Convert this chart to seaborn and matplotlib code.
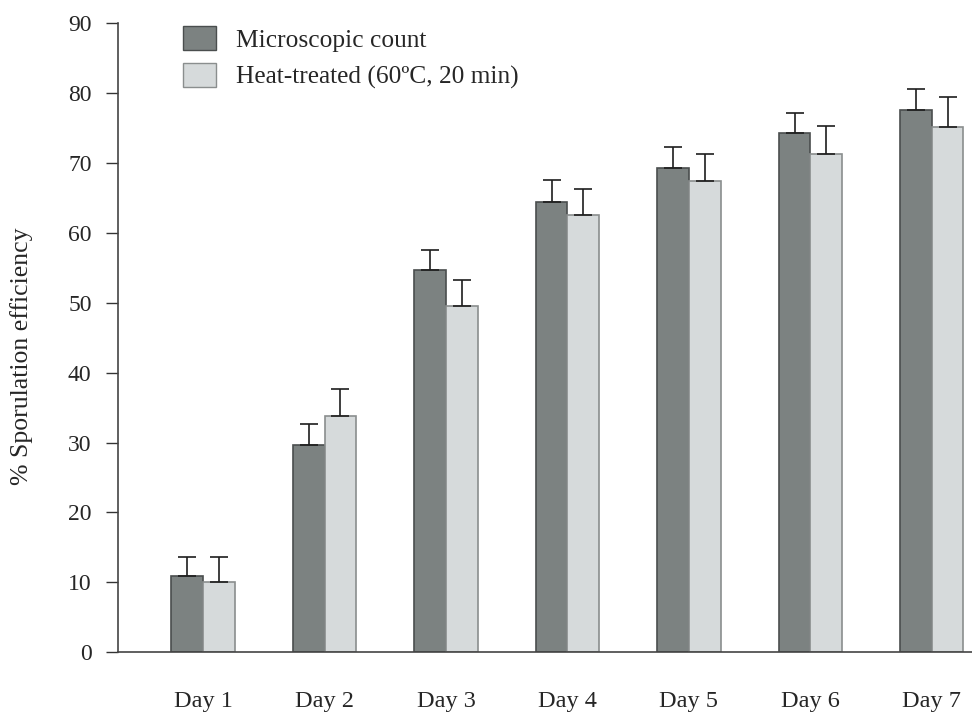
import matplotlib
matplotlib.use("Agg")
import matplotlib.pyplot as plt
import seaborn as sns
import pandas as pd
from matplotlib.patches import Patch

days = ["Day 1", "Day 2", "Day 3", "Day 4", "Day 5", "Day 6", "Day 7"]
series_names = ["Microscopic count", "Heat-treated (60ºC, 20 min)"]
microscopic = [10.9, 29.6, 54.7, 64.4, 69.3, 74.3, 77.5]
microscopic_err = [2.8, 3.0, 2.8, 3.1, 2.9, 2.9, 3.0]
heat_treated = [10.0, 33.8, 49.5, 62.5, 67.4, 71.3, 75.1]
heat_treated_err = [3.7, 3.8, 3.8, 3.7, 3.9, 3.9, 4.3]
y_ticks = [0, 10, 20, 30, 40, 50, 60, 70, 80, 90]

colors = {series_names[0]: "#7c8281", series_names[1]: "#d6dadb"}
edges = {series_names[0]: "#4a4e4e", series_names[1]: "#8a8e8e"}

df = pd.DataFrame({
    "day": days * 2,
    "value": microscopic + heat_treated,
    "err": microscopic_err + heat_treated_err,
    "series": [series_names[0]] * len(days) + [series_names[1]] * len(days),
})

sns.set_style("white")
plt.rcParams["font.family"] = ["Liberation Serif", "DejaVu Serif"]

fig = plt.figure(figsize=(9.72, 7.13), dpi=100)
ax = fig.add_axes([118 / 972, 1 - 652.3 / 713, 1 - 118 / 972, (652.3 - 23) / 713])

sns.barplot(data=df, x="day", y="value", hue="series", order=days,
            hue_order=series_names, palette=colors, width=0.52,
            errorbar=None, linewidth=1.2, saturation=1, legend=False, ax=ax)

# style bars and add one-sided error bars
for container, name, errs in zip(ax.containers, series_names,
                                 [microscopic_err, heat_treated_err]):
    xs, tops = [], []
    for patch in container.patches:
        patch.set_edgecolor(edges[name])
        xs.append(patch.get_x() + patch.get_width() / 2)
        tops.append(patch.get_height())
    ax.errorbar(xs, tops, yerr=[[0] * len(errs), errs], fmt="none",
                ecolor="#1e1e1e", elinewidth=1.2, capsize=6.2, capthick=1.2,
                zorder=3)

ax.set_xlim(-0.70, 6.33)
ax.set_ylim(0, 90)
ax.set_yticks(y_ticks)
ax.set_yticklabels([str(t) for t in y_ticks], fontsize=17)
ax.set_xlabel("")
ax.set_ylabel("% Sporulation efficiency", fontsize=18.5)
ax.yaxis.set_label_coords(-0.099, 0.471)
ax.tick_params(axis="y", length=9, width=1.0, color="#333333", pad=10,
               left=True, direction="out")
ax.tick_params(axis="x", length=0, pad=28, labelsize=17.5)

for s in ["top", "right"]:
    ax.spines[s].set_visible(False)
for s in ["left", "bottom"]:
    ax.spines[s].set_color("#444444")
    ax.spines[s].set_linewidth(1.2)

handles = [Patch(facecolor=colors[n], edgecolor=edges[n], linewidth=1.0)
           for n in series_names]
fig.legend(handles, series_names, loc="upper left",
           bbox_to_anchor=(183 / 972, 1 - 26 / 713), frameon=False,
           fontsize=18.3, handlelength=1.3, handleheight=1.06,
           handletextpad=0.78, labelspacing=0.45, borderpad=0,
           borderaxespad=0)

fig.savefig("out.png", dpi=100)
